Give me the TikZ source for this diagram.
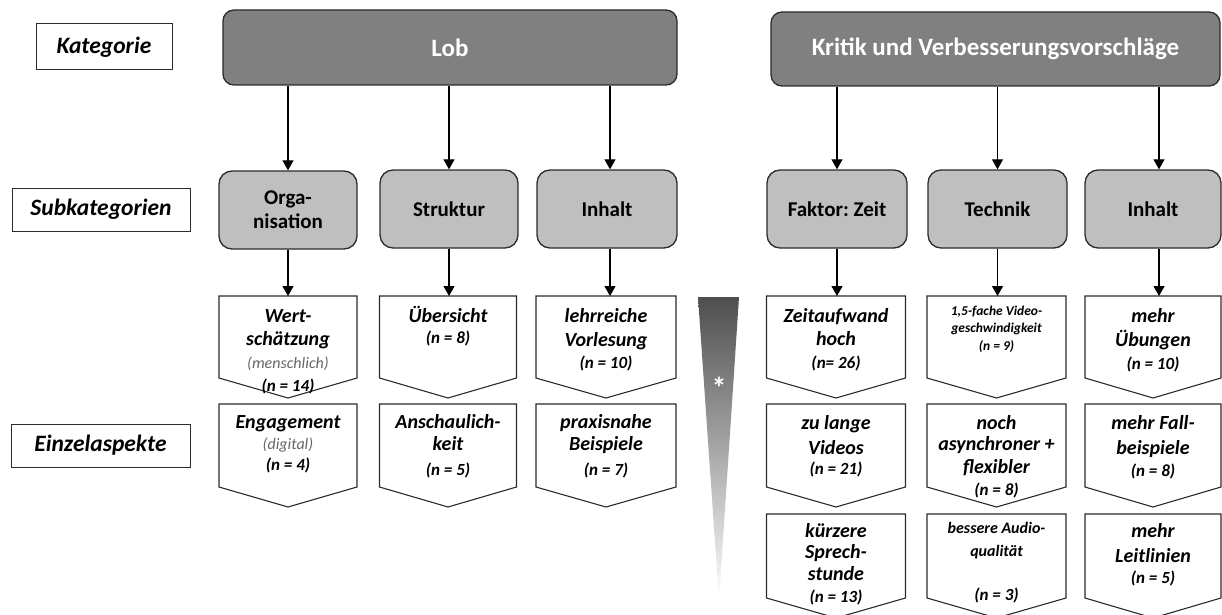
\documentclass[tikz,border=0pt]{standalone}
\usepackage{fontspec}
\setmainfont{Carlito}
\usetikzlibrary{arrows.meta}
\frenchspacing

\definecolor{topgray}{HTML}{808080}
\definecolor{subgray}{HTML}{BFBFBF}
\definecolor{edge}{HTML}{2B2B2B}
\definecolor{wedgetop}{HTML}{4E4E4E}
\definecolor{notegray}{HTML}{666666}

% count line "(n = ...)" and grey remark line inside an aspect box
\newcommand\nval[1]{{\fontsize{17}{23}\selectfont(#1)}}
\newcommand\aspnote[1]{{\mdseries\color{notegray}\fontsize{16}{21}\selectfont(#1)}}

% aspect box: name, x, top y, width, side height, text drop, extra text style, text
\newcommand\aspekt[8]{%
  \node[aspektbox, minimum width=#4pt, minimum height=#5pt] (#1) at (#2,#3) {};
  \draw[aspektline] (#1.north west) -- (#1.north east) -- (#1.south east)
    -- ([yshift=-20pt]#1.south) -- (#1.south west) -- cycle;
  \node[itemtext, #7] (#1-text) at ([yshift=-#6pt]#1.north) {#8};
}

\begin{document}
\begin{tikzpicture}[x=1pt,y=-1pt,
  labelbox/.style={draw=edge, line width=1pt, fill=white, inner sep=0pt,
    font=\bfseries\itshape\fontsize{23.5}{26}\selectfont},
  topbox/.style={draw=edge, line width=1.3pt, fill=topgray, rounded corners=11pt,
    inner sep=0pt, text=white, font=\bfseries\fontsize{25}{28}\selectfont},
  subbox/.style={draw=edge, line width=1.3pt, fill=subgray, rounded corners=13pt,
    inner sep=0pt, align=center, minimum height=78pt,
    font=\bfseries\fontsize{21}{24}\selectfont},
  aspektbox/.style={rectangle, anchor=north, inner sep=0pt, outer sep=0pt},
  aspektline/.style={draw=edge, line width=1.1pt, line join=miter},
  itemtext/.style={anchor=north, align=center, inner sep=0pt,
    font=\bfseries\itshape\fontsize{20}{23}\selectfont},
  tinytext/.style={font=\bfseries\itshape\fontsize{13.5}{17.5}\selectfont},
  smalltext/.style={font=\bfseries\itshape\fontsize{16}{23}\selectfont},
  arr/.style={draw=black, line width=1.2pt, -{Triangle[length=10pt,width=11pt]}},
]
\path[use as bounding box, clip] (0,0) rectangle (1222,615);

% row labels
\node[labelbox, minimum width=136pt, minimum height=46pt] (lkat) at (104,47) {Kategorie};
\node[labelbox, minimum width=178pt, minimum height=43pt] (lsub) at (101,209.5) {Subkategorien};
\node[labelbox, minimum width=179pt, minimum height=43pt] (lein) at (100.5,445.5) {Einzelaspekte};

% categories
\node[topbox, minimum width=454pt, minimum height=75pt] (lob) at (450,47.5) {Lob};
\node[topbox, minimum width=449pt, minimum height=74pt] (krit) at (995.5,49) {Kritik und Verbesserungsvorschläge};

% subcategories
\node[subbox, minimum width=138pt] (org)  at (288,210)   {Orga-\\nisation};
\node[subbox, minimum width=138pt] (str)  at (449,209)   {Struktur};
\node[subbox, minimum width=140pt] (inhl) at (607,209)   {Inhalt};
\node[subbox, minimum width=140pt] (fak)  at (837,209)   {Faktor: Zeit};
\node[subbox, minimum width=139pt] (tec)  at (997.5,209) {Technik};
\node[subbox, minimum width=136pt] (inhr) at (1153,209)  {Inhalt};

% category -> subcategory
\draw[arr] (lob.south -| org.north)  -- (org.north);
\draw[arr] (lob.south -| str.north)  -- (str.north);
\draw[arr] ([xshift=3pt]lob.south -| inhl.north) -- ([xshift=3pt]inhl.north);
\draw[arr] (krit.south -| fak.north) -- (fak.north);
\draw[arr] (krit.south -| tec.north) -- (tec.north);
\draw[arr] ([xshift=6pt]krit.south -| inhr.north) -- ([xshift=6pt]inhr.north);

% aspects, praise
\aspekt{a11}{288}{296}{138}{82}{10}{}{\strut Wert-\\schätzung\\[0pt]\aspnote{menschlich}\\[0pt]\nval{n = 14}}
\aspekt{a12}{288}{404}{138}{83}{8}{}{\strut Engagement\\[-2pt]\aspnote{digital}\\[-2pt]\nval{n = 4}}
\aspekt{a21}{448}{296}{137}{82}{10}{}{\strut Übersicht\\[-2pt]\nval{n = 8}}
\aspekt{a22}{448}{404}{137}{83}{8}{}{\strut Anschaulich-\\[-1pt]keit\\[2pt]\nval{n = 5}}
\aspekt{a31}{606}{296}{140}{82}{10}{}{\strut lehrreiche\\[1pt]Vorlesung\\[-1pt]\nval{n = 10}}
\aspekt{a32}{606}{404}{140}{83}{8}{}{\strut praxisnahe\\[-1pt]Beispiele\\[2pt]\nval{n = 7}}

% aspects, criticism
\aspekt{b11}{836}{296}{139}{82}{10}{}{\strut Zeitaufwand\\hoch\\\nval{n= 26}}
\aspekt{b12}{836}{404}{139}{83}{9}{}{\strut zu lange\\[2pt]Videos\\[-3pt]\nval{n = 21}}
\aspekt{b13}{836}{514}{139}{84}{7}{}{\strut kürzere\\[-1.5pt]Sprech-\\[-1pt]stunde\\[-1pt]\nval{n = 13}}
\aspekt{b21}{996.5}{296}{139}{82}{7}{tinytext}{\strut 1,5-fache Video-\\geschwindigkeit\\(n = 9)}
\aspekt{b22}{996.5}{404}{139}{83}{9}{}{\strut noch\\[-2pt]asynchroner +\\[0pt]flexibler\\[-1pt]\nval{n = 8}}
\aspekt{b23}{996.5}{514}{139}{84}{3}{smalltext}{\strut bessere Audio-\\qualität\\[21pt]\nval{n = 3}}
\aspekt{b31}{1153}{296}{136}{82}{10}{}{\strut mehr\\Übungen\\\nval{n = 10}}
\aspekt{b32}{1153}{404}{136}{83}{9}{}{\strut mehr Fall-\\[2pt]beispiele\\[-1pt]\nval{n = 8}}
\aspekt{b33}{1153}{514}{136}{84}{7}{}{\strut mehr\\[2pt]Leitlinien\\[-2pt]\nval{n = 5}}

% subcategory -> first aspect
\draw[arr] (org.south)  -- (org.south |- a11.north);
\draw[arr] (str.south)  -- (str.south |- a21.north);
\draw[arr] ([xshift=3pt]inhl.south) -- ([xshift=3pt]inhl.south |- a31.north);
\draw[arr] (fak.south)  -- (fak.south |- b11.north);
\draw[arr] (tec.south)  -- (tec.south |- b21.north);
\draw[arr] ([xshift=6pt]inhr.south) -- ([xshift=6pt]inhr.south |- b31.north);

% frequency wedge
\shade[top color=wedgetop, bottom color=white] (698,297) -- (739,297) -- (719,600) -- cycle;
\node[text=white, inner sep=0pt, font=\bfseries\fontsize{30}{30}\selectfont] (star) at (719,388) {*};
\end{tikzpicture}
\end{document}
